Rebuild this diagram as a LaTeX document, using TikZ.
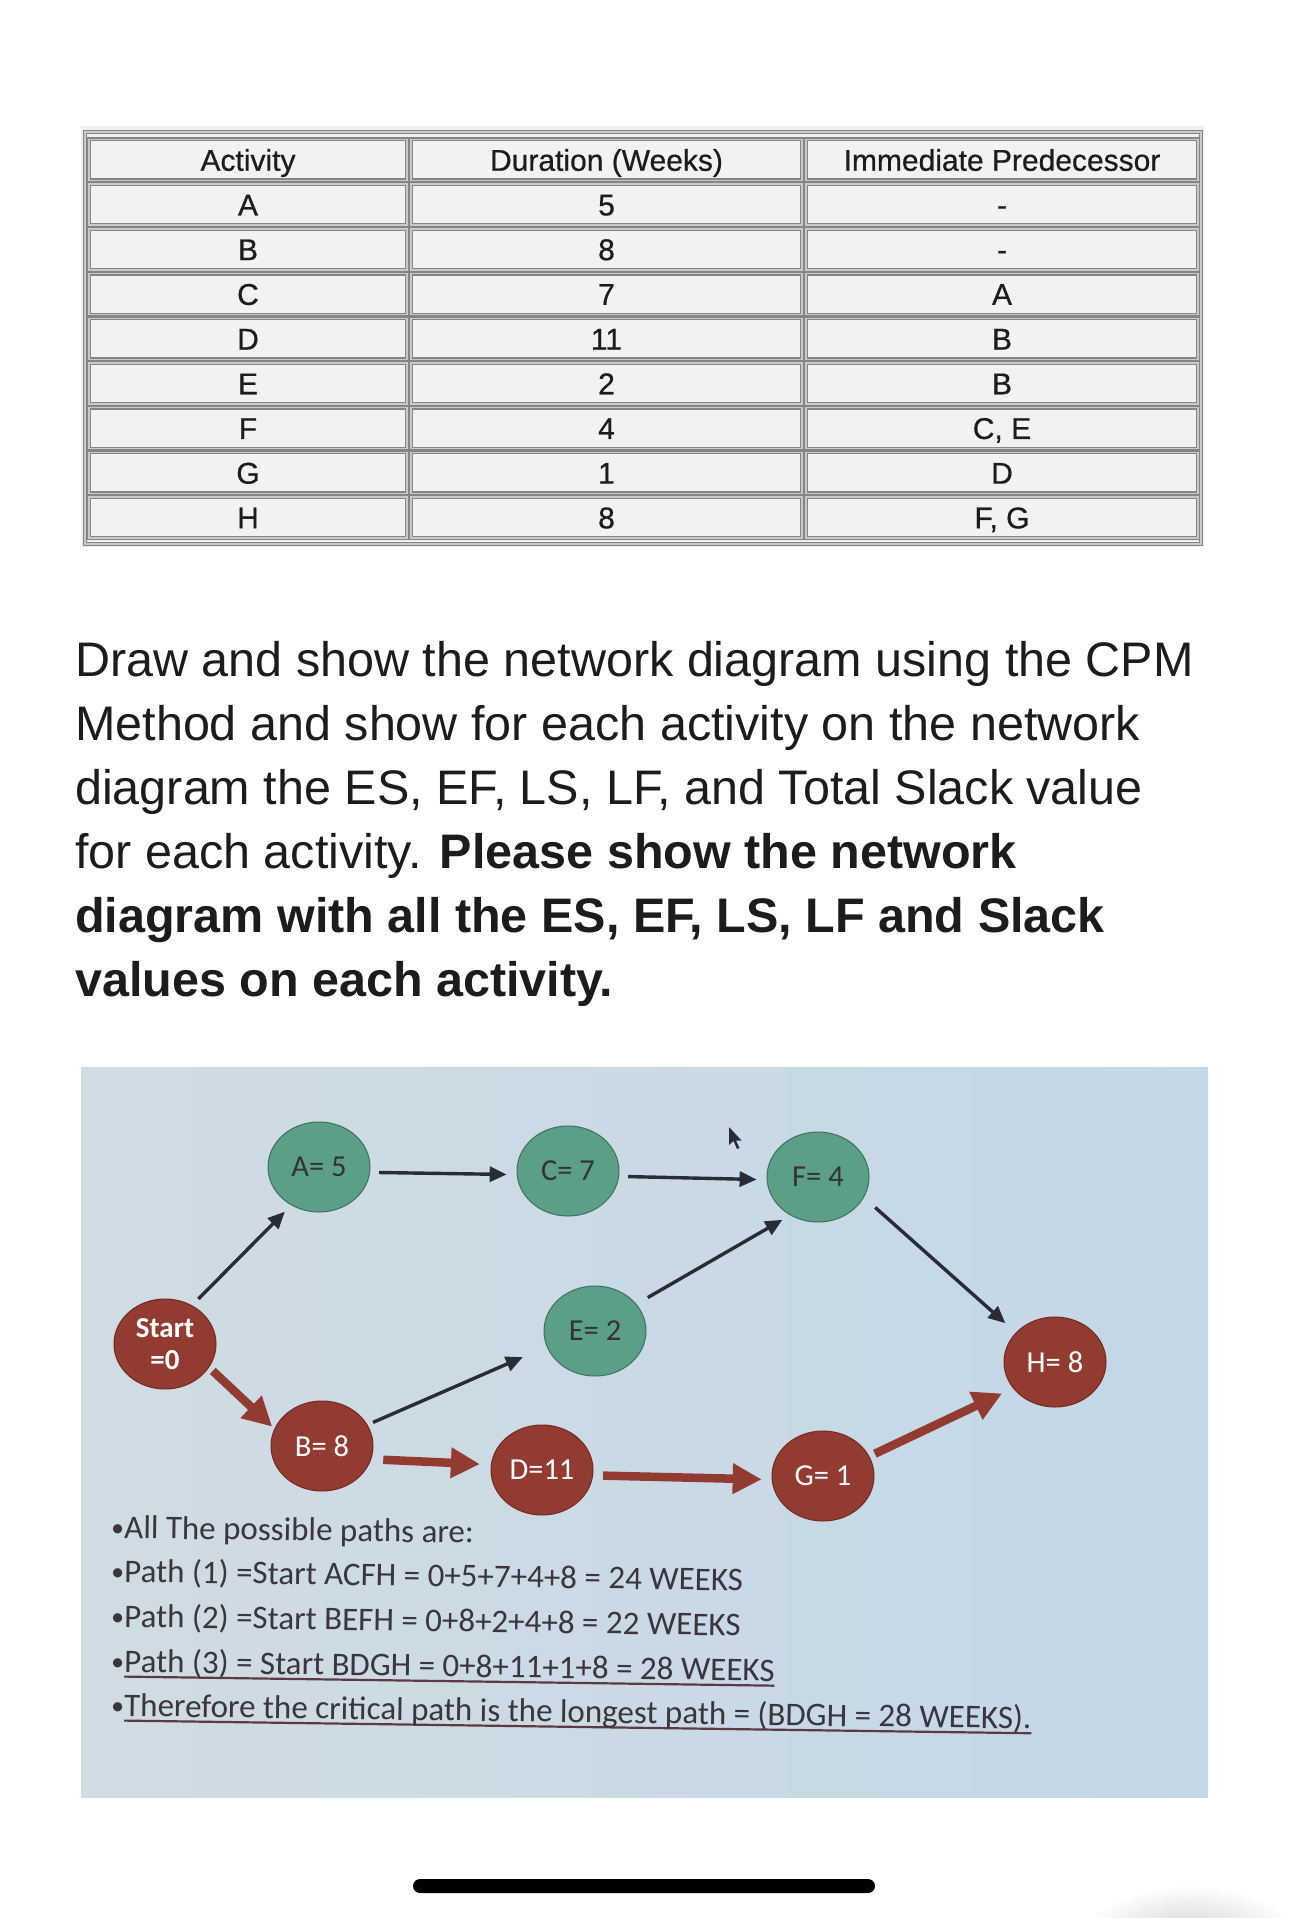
\documentclass[tikz,border=0pt]{standalone}
\usepackage{fontspec}
\setmainfont{Liberation Sans}
\newfontfamily\calfont{Carlito}
\newfontfamily\tabfont[FakeBold=0.6]{Liberation Sans}
\usetikzlibrary{shapes.geometric,arrows.meta}
\definecolor{tealn}{HTML}{5B9F87}
\definecolor{tealb}{HTML}{3F6F60}
\definecolor{redn}{HTML}{923B30}
\definecolor{redb}{HTML}{74291F}
\definecolor{arrowc}{HTML}{2A2C35}
\definecolor{cellf}{HTML}{F2F2F2}
\definecolor{cellb}{HTML}{858585}
\definecolor{celli}{HTML}{C9C9C9}
\definecolor{bandc}{HTML}{EDF0F3}
\definecolor{txtc}{HTML}{1C1C1C}
\definecolor{pathc}{HTML}{3A3540}
\definecolor{ulc}{HTML}{5C3A42}
\definecolor{bgl}{HTML}{D0DCE3}
\definecolor{bgr}{HTML}{C4D7E7}
\newcommand\myul[1]{\setbox0\hbox{#1}\rlap{\color{ulc}\rule[-5.5pt]{\wd0}{2.2pt}}\box0}
\newcommand\mybul{{\fontsize{26}{26}\selectfont\raisebox{1.5pt}{•}}}
\begin{document}
\begin{tikzpicture}[x=1pt,y=-1pt,
  cell/.style={draw=cellb, line width=1.3pt, double=celli, double distance=1.4pt, fill=cellf,
    minimum height=41pt, inner sep=0pt, text height=21.5pt, text depth=0pt, text=txtc,
    font=\tabfont\fontsize{30}{34}\selectfont},
  qline/.style={anchor=base west, inner sep=0pt, text=txtc, font=\fontsize{48.5}{60}\selectfont},
  pline/.style={anchor=base west, inner sep=0pt, text=pathc, rotate=-0.8, font=\calfont\fontsize{33}{40}\selectfont},
  actnode/.style={ellipse, minimum width=102pt, minimum height=90pt, inner sep=0pt, line width=1pt,
    font=\calfont\fontsize{30.5}{34}\selectfont},
  tnode/.style={actnode, fill=tealn, draw=tealb, text=black!80},
  rnode/.style={actnode, fill=redn, draw=redb, text=white},
  thinarr/.style={draw=arrowc, line width=3.4pt, -{Triangle[length=17pt,width=15pt]}},
  thickarr/.style={draw=redn, line width=8.5pt, -{Triangle[length=29pt,width=29pt]}}
]
\useasboundingbox (0,0) rectangle (1290,1918);
\fill[white] (0,0) rectangle (1290,1918);

% ---------- table ----------
\fill[bandc] (81,126) rectangle (1204,547);
\draw[draw=cellb, line width=1.3pt, double=celli, double distance=1.4pt] (85,132) rectangle (1201,544);
\node[cell, minimum width=318pt] (h1) at (248,160) {Activity};
\node[cell, minimum width=391pt] (h2) at (606.5,160) {Duration (Weeks)};
\node[cell, minimum width=392pt] (h3) at (1002,160) {Immediate Predecessor};
\foreach \ra/\du/\pr [count=\i] in {A/5/-,B/8/-,C/7/A,D/11/B,E/2/B,F/4/{C, E},G/1/D,H/8/{F, G}}{
  \node[cell, minimum width=318pt] (c\i a) at (248,160+44.7*\i) {\ra};
  \node[cell, minimum width=391pt] (c\i b) at (606.5,160+44.7*\i) {\du};
  \node[cell, minimum width=392pt] (c\i c) at (1002,160+44.7*\i) {\pr};
}

% ---------- question ----------
\node[qline] (q1) at (75,676) {Draw and show the network diagram using the CPM};
\node[qline] (q2) at (75,740) {Method and show for each activity on the network};
\node[qline] (q3) at (75,804) {diagram the ES, EF, LS, LF, and Total Slack value};
\node[qline] (q4) at (75,868) {for each activity. \textbf{Please show the network}};
\node[qline, font=\bfseries\fontsize{48.5}{60}\selectfont] (q5) at (75,932) {diagram with all the ES, EF, LS, LF and Slack};
\node[qline, font=\bfseries\fontsize{48.5}{60}\selectfont] (q6) at (75,996) {values on each activity.};

% ---------- photo ----------
\shade[left color=bgl, right color=bgr] (81,1067) rectangle (1208,1797);

\node[tnode] (A) at (319,1167) {A= 5};
\node[tnode] (C) at (568,1171) {C= 7};
\node[tnode] (F) at (818,1177) {F= 4};
\node[tnode] (E) at (595,1331) {E= 2};
\node[rnode, align=center, font=\calfont\bfseries\fontsize{29}{32}\selectfont] (S) at (165,1344) {Start\\=0};
\node[rnode] (H) at (1055,1362) {H= 8};
\node[rnode] (B) at (322,1446) {B= 8};
\node[rnode] (D) at (542,1470) {D=11};
\node[rnode] (G) at (823,1476) {G= 1};

\draw[thinarr, shorten <=9pt, shorten >=9pt] (S.55) -- (A.234);
\draw[thickarr, shorten <=5pt, shorten >=3pt] (S.-28) -- (B.160);
\draw[thinarr, shorten <=9pt, shorten >=10pt] (A.-6) -- (C.184);
\draw[thinarr, shorten <=9pt, shorten >=10pt] (C.-6) -- (F.183);
\draw[thinarr, shorten <=6pt, shorten >=26pt] (B.25) -- (E.198);
\draw[thinarr, shorten <=13pt, shorten >=9pt] (E.33) -- (F.234);
\draw[thinarr, shorten <=15pt, shorten >=14pt] (F.-24) -- (H.143);
\draw[thickarr, shorten <=12pt, shorten >=11pt] (B.-15) -- (D.174);
\draw[thickarr, shorten <=10pt, shorten >=10pt] (D.-6) -- (G.184);
\draw[thickarr, shorten <=6pt, shorten >=12pt] (G.23) -- (H.212);

% mouse cursor
\fill[arrowc] (729,1127) -- (729,1145) -- (733.5,1141) -- (737,1149) -- (739.5,1148) -- (736,1140.5) -- (741.5,1140.5) -- cycle;

\node[pline] (p0) at (111,1538) {\mybul All The possible paths are:};
\node[pline] (p1) at (111,1582) {\mybul Path (1) =Start ACFH = 0+5+7+4+8 = 24 WEEKS};
\node[pline] (p2) at (111,1627) {\mybul Path (2) =Start BEFH = 0+8+2+4+8 = 22 WEEKS};
\node[pline] (p3) at (111,1672) {\mybul\myul{Path (3) = Start BDGH = 0+8+11+1+8 = 28 WEEKS}};
\node[pline] (p4) at (111,1716) {\mybul\myul{Therefore the critical path is the longest path = (BDGH = 28 WEEKS).}};

% ---------- phone UI ----------
\fill[black, rounded corners=7pt] (413,1879) rectangle (875,1893);
\shade[inner color=black!22, outer color=white] (1190,1950) ellipse (115 and 65);
\end{tikzpicture}
\end{document}
